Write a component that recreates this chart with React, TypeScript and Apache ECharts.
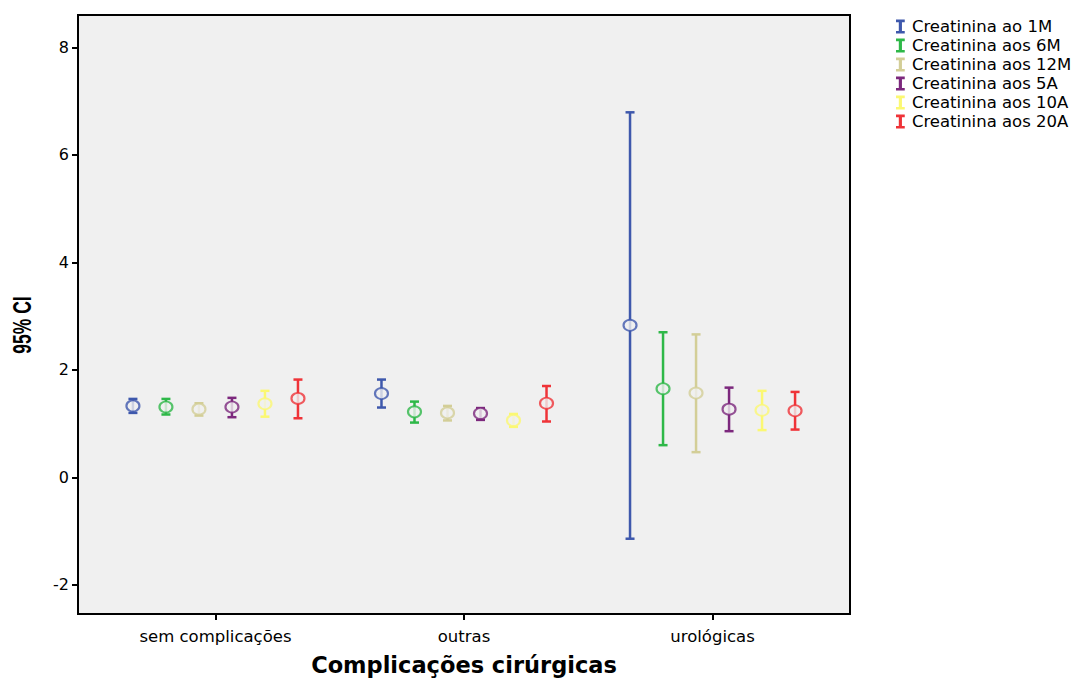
import React, { useEffect, useRef } from "react";
import * as echarts from "echarts";

const categories = ["sem complicações", "outras", "urológicas"];
const seriesNames = [
  "Creatinina ao 1M",
  "Creatinina aos 6M",
  "Creatinina aos 12M",
  "Creatinina aos 5A",
  "Creatinina aos 10A",
  "Creatinina aos 20A",
];
const colors = ["#3E58AC", "#2EB848", "#D3CE97", "#7C287D", "#FBF873", "#EF3338"];

// per series: values for [sem complicações, outras, urológicas]
const means = [
  [1.33, 1.56, 2.83],
  [1.31, 1.22, 1.65],
  [1.27, 1.2, 1.57],
  [1.31, 1.19, 1.27],
  [1.37, 1.06, 1.25],
  [1.47, 1.38, 1.24],
];
const lowers = [
  [1.2, 1.3, -1.14],
  [1.17, 1.02, 0.6],
  [1.15, 1.06, 0.47],
  [1.12, 1.07, 0.86],
  [1.13, 0.94, 0.88],
  [1.1, 1.04, 0.89],
];
const uppers = [
  [1.46, 1.82, 6.79],
  [1.46, 1.41, 2.7],
  [1.38, 1.33, 2.66],
  [1.48, 1.29, 1.67],
  [1.61, 1.18, 1.61],
  [1.82, 1.7, 1.59],
];
const yTicks = [-2, 0, 2, 4, 6, 8];

const FONT = "'DejaVu Sans', 'Liberation Sans', Arial, sans-serif";
const BOLDF = "'Liberation Sans', Arial, sans-serif";
const IBEAM = "path://M0,0 H10 V3 H6.8 V13 H10 V16 H0 V13 H3.2 V3 H0 Z";

export default function App() {
  const ref = useRef<HTMLDivElement>(null);
  useEffect(() => {
    if (!ref.current) return;
    const chart = echarts.init(ref.current, undefined, { renderer: "svg" });
    const dodge = 0.1328;
    const series: any[] = [];
    seriesNames.forEach((name, i) => {
      const off = (i - 2.5) * dodge;
      const barData = categories.map((_, g) => [g + off, lowers[i][g], uppers[i][g]]);
      const ptData = categories.map((_, g) => [g + off, means[i][g]]);
      series.push({
        name,
        type: "custom",
        data: barData,
        encode: { x: 0, y: [1, 2] },
        renderItem: (params: any, api: any) => {
          const lo = api.coord([api.value(0), api.value(1)]);
          const hi = api.coord([api.value(0), api.value(2)]);
          const hw = 4.5;
          const style = { stroke: colors[i], lineWidth: 2.5 };
          return {
            type: "group",
            children: [
              { type: "line", shape: { x1: lo[0], y1: lo[1], x2: hi[0], y2: hi[1] }, style },
              { type: "line", shape: { x1: lo[0] - hw, y1: lo[1], x2: lo[0] + hw, y2: lo[1] }, style },
              { type: "line", shape: { x1: hi[0] - hw, y1: hi[1], x2: hi[0] + hw, y2: hi[1] }, style },
            ],
          };
        },
        z: 2,
      });
      series.push({
        name,
        type: "scatter",
        data: ptData,
        symbol: "circle",
        symbolSize: [13, 11],
        itemStyle: { color: "#F0F0F0", borderColor: colors[i], borderWidth: 2 },
        z: 3,
      });
    });

    chart.setOption({
      animation: false,
      color: colors,
      grid: {
        left: 78,
        right: 239,
        top: 15,
        bottom: 65,
        outerBoundsMode: "none",
        containLabel: false,
        show: true,
        backgroundColor: "#F0F0F0",
        borderColor: "#000",
        borderWidth: 2,
      },
      graphic: [
        {
          type: "text",
          x: 22,
          y: 325,
          rotation: Math.PI / 2,
          scaleX: 0.7,
          style: {
            text: "95% CI",
            fontFamily: BOLDF,
            fontSize: 25,
            fontWeight: "bold",
            fill: "#000",
            align: "center",
            verticalAlign: "middle",
          },
        },
      ],
      legend: {
        orient: "vertical",
        left: 891,
        top: 13,
        itemWidth: 9,
        itemHeight: 14,
        itemGap: 2,
        textStyle: { fontFamily: FONT, fontSize: 16.5, lineHeight: 14, color: "#000", padding: [0, 0, 0, 2] },
        data: seriesNames.map((n, i) => ({ name: n, icon: IBEAM, itemStyle: { color: colors[i] } })),
      },
      xAxis: {
        type: "value",
        min: -0.553,
        max: 2.553,
        splitLine: { show: false },
        axisLine: { show: true, onZero: false, lineStyle: { color: "#000", width: 2 } },
        axisTick: { show: true, length: 6, lineStyle: { color: "#000", width: 2 }, customValues: [0, 1, 2] },
        axisLabel: {
          customValues: [0, 1, 2],
          formatter: (v: number) => categories[Math.round(v)] ?? "",
          fontFamily: FONT,
          fontSize: 16.5,
          color: "#000",
          margin: 14,
        },
        name: "Complicações cirúrgicas",
        nameLocation: "middle",
        nameGap: 39,
        nameTextStyle: { fontFamily: FONT, fontSize: 22.5, fontWeight: "bold", color: "#000" },
      },
      yAxis: {
        type: "value",
        min: -2.54,
        max: 8.6,
        splitLine: { show: false },
        axisLine: { show: true, onZero: false, lineStyle: { color: "#000", width: 2 } },
        axisTick: { show: true, length: 6, lineStyle: { color: "#000", width: 2 }, customValues: yTicks },
        axisLabel: {
          customValues: yTicks,
          fontFamily: FONT,
          fontSize: 16,
          color: "#000",
          margin: 9,
        },
      },
      series,
    });
    return () => chart.dispose();
  }, []);
  return <div ref={ref} style={{ position: "absolute", left: 0, top: 0, width: 1089, height: 679 }} />;
}
